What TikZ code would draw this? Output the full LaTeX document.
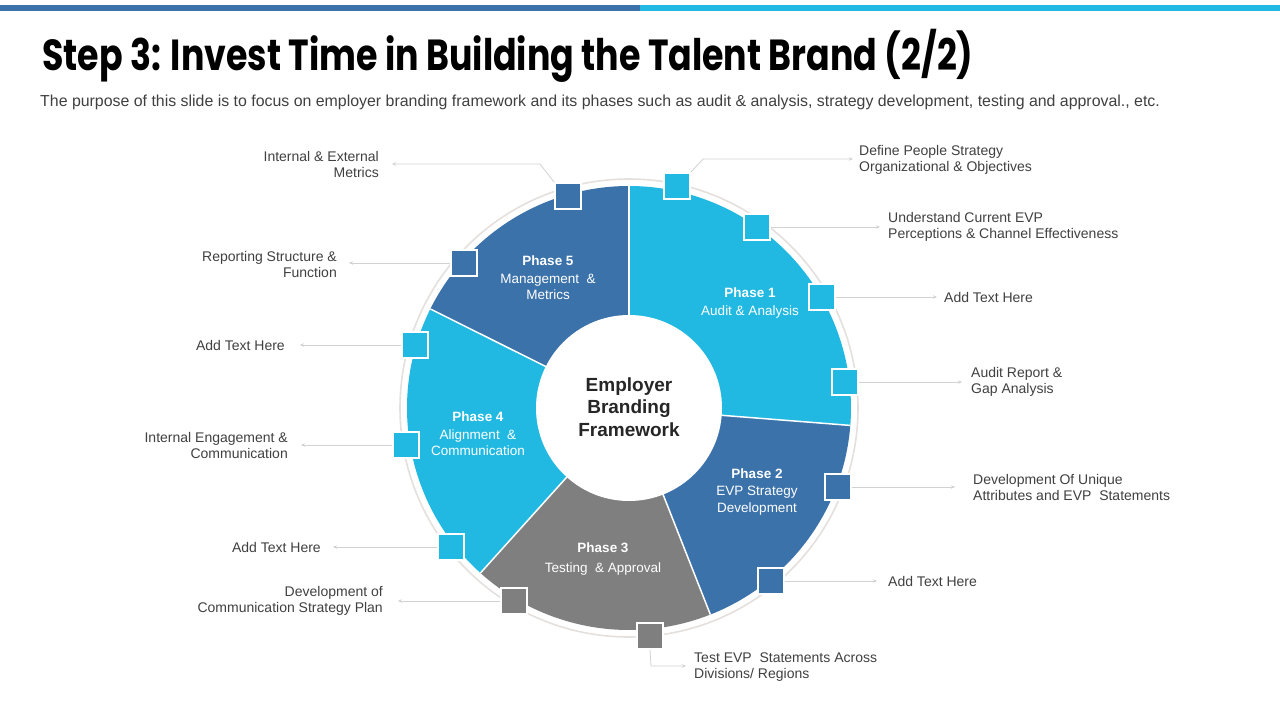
\documentclass[tikz,border=0pt]{standalone}
\usepackage{fontspec}
\setmainfont{Liberation Sans}
\newfontfamily\titlefont[FakeStretch=0.8]{Poppins}
\usetikzlibrary{arrows.meta}
\definecolor{lb}{HTML}{21B9E1}
\definecolor{db}{HTML}{3B72AA}
\definecolor{gy}{HTML}{7F7F7F}
\definecolor{txt}{HTML}{404040}
\definecolor{ln}{HTML}{D2D2D2}
\definecolor{ring}{HTML}{E4E0DE}
\begin{document}
\begin{tikzpicture}[x=1pt,y=-1pt,
  sqbox/.style={minimum size=26pt,inner sep=0pt,draw=white,line width=1.8pt},
  conn/.style={draw=ln,line width=0.8pt,-{Stealth[length=4pt,width=3.5pt]}},
  lblL/.style={anchor=west,align=left,inner sep=0pt,text=txt,font=\fontsize{14}{16}\selectfont},
  lblR/.style={anchor=east,align=right,inner sep=0pt,text=txt,font=\fontsize{14}{16}\selectfont},
  ph/.style={align=center,text=white,inner sep=0pt,font=\fontsize{13.5}{16.5}\selectfont}]
\useasboundingbox (0,0) rectangle (1280,720);
\fill[white] (0,0) rectangle (1280,720);
% top bar
\fill[db] (0,5) rectangle (640,11);
\fill[lb] (640,5) rectangle (1280,11);
% title
\node[anchor=base west,inner sep=0pt,font=\titlefont\bfseries\fontsize{43.5}{46}\selectfont] (title) at (42,70) {Step 3: Invest Time in Building the Talent Brand (2/2)};
\node[anchor=base west,inner sep=0pt,text=txt,font=\fontsize{15.9}{18}\selectfont] (sub) at (40,106) {The purpose of this slide is to focus on employer branding framework and its phases such as audit \& analysis, strategy development, testing and approval., etc.};
% pie
\begin{scope}[shift={(629,408)},yscale=-1]
  \draw[ring,line width=1.6pt] (0,0) circle[radius=229];
  \fill[lb] (0,0) -- (-4.5:222) arc[start angle=-4.5,end angle=90,radius=222] -- cycle;
  \fill[db] (0,0) -- (-68.5:222) arc[start angle=-68.5,end angle=-4.5,radius=222] -- cycle;
  \fill[gy] (0,0) -- (-132:222) arc[start angle=-132,end angle=-68.5,radius=222] -- cycle;
  \fill[lb] (0,0) -- (153.5:222) arc[start angle=153.5,end angle=228,radius=222] -- cycle;
  \fill[db] (0,0) -- (90:222) arc[start angle=90,end angle=153.5,radius=222] -- cycle;
  \foreach \a in {-4.5,-68.5,-132,153.5,90} \draw[white,line width=1.5pt] (0,0) -- (\a:222);
  \fill[white] (0,0) circle[radius=93];
\end{scope}
\node[align=center,inner sep=0pt,text=black!85,font=\bfseries\fontsize{19}{22.5}\selectfont] (center) at (629,407) {Employer\\Branding\\Framework};
% phase labels
\node[ph] (p1) at (750,303) {\textbf{Phase 1}\\[1pt]Audit \& Analysis};
\node[ph] (p2) at (757,492) {\textbf{Phase 2}\\[1pt]EVP Strategy\\Development};
\node[ph] (p3) at (603,559) {\textbf{Phase 3}\\[3pt]Testing\ \ \& Approval};
\node[ph] (p4) at (478,434) {\textbf{Phase 4}\\[1pt]Alignment\ \ \&\\Communication};
\node[ph] (p5) at (548,278) {\textbf{Phase 5}\\[1pt]Management\ \ \&\\Metrics};
% squares
\node[sqbox,fill=lb] (s1) at (677,186) {};
\node[sqbox,fill=lb] (s2) at (757,227) {};
\node[sqbox,fill=lb] (s3) at (822,297) {};
\node[sqbox,fill=lb] (s4) at (845,382) {};
\node[sqbox,fill=db] (s5) at (838,487) {};
\node[sqbox,fill=db] (s6) at (771,581) {};
\node[sqbox,fill=gy] (s7) at (650,636) {};
\node[sqbox,fill=gy] (s8) at (514,601) {};
\node[sqbox,fill=lb] (s9) at (451,547) {};
\node[sqbox,fill=lb] (s10) at (406,445) {};
\node[sqbox,fill=lb] (s11) at (415,345) {};
\node[sqbox,fill=db] (s12) at (464,263) {};
\node[sqbox,fill=db] (s13) at (568,196) {};
% labels
\node[lblL] (l1) at (859,160) {Define People Strategy\\Organizational \&\ Objectives};
\node[lblL] (l2) at (888,227) {Understand Current EVP\\Perceptions \& Channel Effectiveness};
\node[lblL] (l3) at (944,297) {Add Text Here};
\node[lblL] (l4) at (971,382) {Audit Report \&\\Gap Analysis};
\node[lblL] (l5) at (973,487) {Development Of Unique\\Attributes and EVP\ \ Statements};
\node[lblL] (l6) at (888,581) {Add Text Here};
\node[lblL] (l7) at (694,667) {Test EVP\ \ Statements Across\\Divisions/ Regions};
\node[lblR] (l8) at (383,601) {Development of\\Communication Strategy Plan};
\node[lblR] (l9) at (321,547) {Add Text Here};
\node[lblR] (l10) at (288,445) {Internal Engagement \&\\Communication};
\node[lblR] (l11) at (285,345) {Add Text Here};
\node[lblR] (l12) at (337,264) {Reporting Structure \&\\Function};
\node[lblR] (l13) at (379,164) {Internal \& External\\Metrics};
% connectors
\coordinate (b1) at (703,159);
\coordinate (b13) at (540,164);
\coordinate (b7) at (651,666);
\draw[conn,shorten >=6pt] (s1.north east) -- (b1) -- (b1 -| l1.west);
\draw[conn,shorten >=8pt] (s2.east) -- (s2.east -| l2.west);
\draw[conn,shorten >=7pt] (s3.east) -- (s3.east -| l3.west);
\draw[conn,shorten >=9pt] (s4.east) -- (s4.east -| l4.west);
\draw[conn,shorten >=18pt] (s5.east) -- (s5.east -| l5.west);
\draw[conn,shorten >=11pt] (s6.east) -- (s6.east -| l6.west);
\draw[conn,shorten >=8pt] (s7.south) -- (b7) -- (b7 -| l7.west);
\draw[conn,shorten >=15pt] (s8.west) -- (s8.west -| l8.east);
\draw[conn,shorten >=12pt] (s9.west) -- (s9.west -| l9.east);
\draw[conn,shorten >=13pt] (s10.west) -- (s10.west -| l10.east);
\draw[conn,shorten >=15pt] (s11.west) -- (s11.west -| l11.east);
\draw[conn,shorten >=12pt] (s12.west) -- (s12.west -| l12.east);
\draw[conn,shorten >=13pt] (s13.north west) -- (b13) -- (b13 -| l13.east);
\end{tikzpicture}
\end{document}
